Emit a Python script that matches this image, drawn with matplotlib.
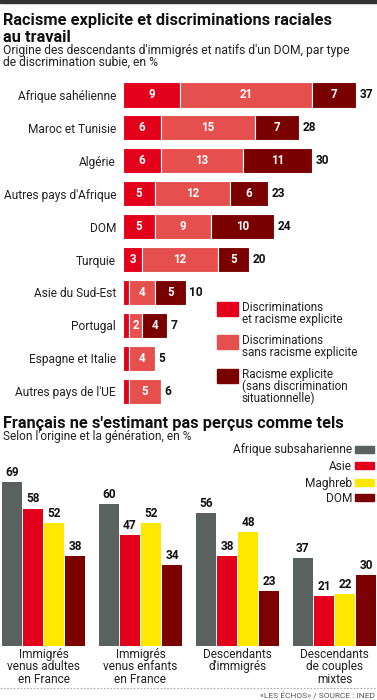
import matplotlib
matplotlib.use("Agg")
import matplotlib.pyplot as plt
from matplotlib.patches import Rectangle
import numpy as np

plt.rcParams['font.family'] = ['Roboto', 'DejaVu Sans']

# ---------------- data ----------------
cats1 = ["Afrique sahélienne", "Maroc et Tunisie", "Algérie", "Autres pays d'Afrique",
         "DOM", "Turquie", "Asie du Sud-Est", "Portugal", "Espagne et Italie",
         "Autres pays de l'UE"]
disc_racisme = [9, 6, 6, 5, 5, 3, 1, 1, 1, 1]
disc_sans = [21, 15, 13, 12, 9, 12, 4, 2, 4, 5]
racisme_seul = [7, 7, 11, 6, 10, 5, 5, 4, 0, 0]
totals1 = [37, 28, 30, 23, 24, 20, 10, 7, 5, 6]
series1_names = ["Discriminations\net racisme explicite",
                 "Discriminations\nsans racisme explicite",
                 "Racisme explicite\n(sans discrimination\nsituationnelle)"]
colors1 = ["#e2001a", "#e5504e", "#7a0000"]

groups2 = ["Immigrés\nvenus adultes\nen France", "Immigrés\nvenus enfants\nen France",
           "Descendants\nd'immigrés", "Descendants\nde couples\nmixtes"]
series2_names = ["Afrique subsaharienne", "Asie", "Maghreb", "DOM"]
afrique_sub = [69, 60, 56, 37]
asie = [58, 47, 38, 21]
maghreb = [52, 52, 48, 22]
dom = [38, 34, 23, 30]
colors2 = ["#59625f", "#e2001a", "#ffe800", "#7d0000"]

W, H = 377, 700
fig = plt.figure(figsize=(W / 100, H / 100), dpi=100)
fig.patch.set_facecolor("white")

def fx(p):
    return p / W

def fy(p):
    return 1 - p / H

def lines(x, y0, text, dy, **kw):
    for i, ln in enumerate(text.split("\n")):
        fig.text(fx(x), fy(y0 + i * dy), ln, va="baseline", **kw)

# top dark band
fig.patches.append(Rectangle((0, fy(2.5)), 1, 2.5 / H, transform=fig.transFigure,
                             color="#333333", zorder=0))

# titles
lines(3, 25.5, "Racisme explicite et discriminations raciales\nau travail", 16,
      fontsize=11.8, fontweight="bold", ha="left", color="#111111")
lines(3, 54, "Origine des descendants d'immigrés et natifs d'un DOM, par type\nde discrimination subie, en %", 11.5,
      fontsize=8.7, ha="left", color="#222222")

# ---------------- chart 1 ----------------
scale1 = 6.3  # px per unit
row0, step = 95.0, 32.9
ax1_top = row0 - 0.5 * step
ax1_bot = row0 + 9.5 * step
left_px = 123
ax1 = fig.add_axes([fx(left_px), fy(ax1_bot), fx(W - left_px), (ax1_bot - ax1_top) / H])
ax1.set_xlim(0, (W - left_px) / scale1)
ax1.set_ylim(9.5, -0.5)
y = np.arange(len(cats1))
series1 = [disc_racisme, disc_sans, racisme_seul]
lefts = np.zeros(len(cats1))
for vals, col in zip(series1, colors1):
    vals = np.array(vals, dtype=float)
    ax1.barh(y, vals, left=lefts, height=0.76, color=col, edgecolor="white", linewidth=0.8)
    for yi, v, l in zip(y, vals, lefts):
        if v >= 2:
            ax1.text(l + v / 2, yi, f"{int(v)}", ha="center", va="center",
                     color="white", fontsize=8.3, fontweight="bold")
    lefts += vals
for yi, t in zip(y, totals1):
    ax1.text(t + 0.55, yi, f"{t}", ha="left", va="center", color="#111111",
             fontsize=8.6, fontweight="bold")
ax1.set_yticks(y)
ax1.set_yticklabels(cats1, fontsize=8.6, color="#222222")
ax1.tick_params(axis="y", length=0, pad=5)
ax1.tick_params(axis="x", bottom=False, labelbottom=False)
for s in ax1.spines.values():
    s.set_visible(False)
ax1.patch.set_alpha(0)

# legend 1
leg_sq = [(302, 316), (335, 349), (369, 383)]
leg_txt_base = [311, 344, 378]
for (t, b), col, name, tb in zip(leg_sq, colors1, series1_names, leg_txt_base):
    fig.patches.append(Rectangle((fx(217), fy(b)), fx(21), (b - t) / H,
                                 transform=fig.transFigure, color=col))
    lines(242, tb, name, 12.2, fontsize=8.5, ha="left", color="#222222")

# second title
fig.text(fx(3), fy(428), "Français ne s'estimant pas perçus comme tels",
         fontsize=11.8, fontweight="bold", va="baseline", ha="left", color="#111111")
fig.text(fx(3), fy(440), "Selon l'origine et la génération, en %",
         fontsize=8.6, va="baseline", ha="left", color="#222222")

# legend 2
leg2_y = [(446, 453), (462, 469), (479, 486), (494, 501)]
for (t, b), col, name in zip(leg2_y, colors2, series2_names):
    fig.patches.append(Rectangle((fx(355), fy(b)), fx(19), (b - t) / H,
                                 transform=fig.transFigure, color=col))
    fig.text(fx(352), fy(b + 0.5), name, fontsize=8.6, va="baseline", ha="right",
             color="#222222")

# ---------------- chart 2 ----------------
scale2 = 2.37  # px per unit
base_px = 646
top_px = 470
gstep = 97.0
g0 = 43.5
ax2 = fig.add_axes([0, fy(base_px), 1, (base_px - top_px) / H])
ax2.set_xlim(-g0 / gstep, (W - g0) / gstep)
ax2.set_ylim(0, (base_px - top_px) / scale2)
x = np.arange(len(groups2))
bw = 20 / gstep
bstep = 21 / gstep
series2 = [afrique_sub, asie, maghreb, dom]
for k, (vals, col) in enumerate(zip(series2, colors2)):
    xs = x + (k - 1.5) * bstep
    ax2.bar(xs, vals, width=bw, color=col, edgecolor="none")
    for xi, v in zip(xs, vals):
        ax2.text(xi, v + 1.3, f"{v}", ha="center", va="bottom", fontsize=8.6,
                 fontweight="bold", color="#111111")
ax2.set_xticks([])
ax2.set_yticks([])
for s in ax2.spines.values():
    s.set_visible(False)
ax2.patch.set_alpha(0)

for xi, lab in zip(x, groups2):
    cx = g0 + xi * gstep
    lines(cx, 658, lab, 12.3, fontsize=8.6, ha="center", color="#222222")

# dotted separator
fig.add_artist(plt.Line2D([0, 1], [fy(688), fy(688)], transform=fig.transFigure,
                          color="#aaaaaa", linewidth=0.8, linestyle=(0, (1.5, 1.5))))
fig.text(fx(375), fy(698.5), "«LES ÉCHOS» / SOURCE : INED", fontsize=6.0,
         ha="right", va="baseline", color="#555555")

fig.savefig("out.png", dpi=100)
